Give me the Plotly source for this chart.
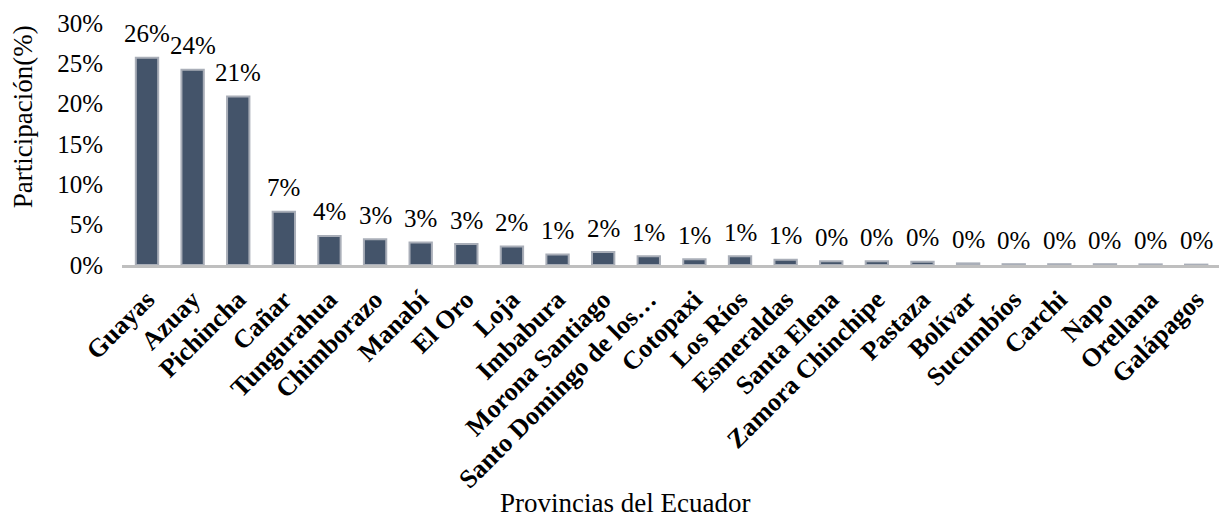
import plotly.graph_objects as go

provincias = ["Guayas", "Azuay", "Pichincha", "Cañar", "Tungurahua", "Chimborazo",
              "Manabí", "El Oro", "Loja", "Imbabura", "Morona Santiago",
              "Santo Domingo de los…", "Cotopaxi", "Los Ríos", "Esmeraldas",
              "Santa Elena", "Zamora Chinchipe", "Pastaza", "Bolívar", "Sucumbíos",
              "Carchi", "Napo", "Orellana", "Galápagos"]
participacion = [0.257, 0.242, 0.209, 0.066, 0.036, 0.032, 0.028, 0.026, 0.023,
                 0.013, 0.016, 0.011, 0.007, 0.011, 0.0066, 0.0045, 0.0045, 0.004,
                 0.002, 0.001, 0.001, 0.001, 0.0008, 0.0005]
y_ticks = [0, 0.05, 0.10, 0.15, 0.20, 0.25, 0.30]

FONT = "Liberation Serif, Times New Roman, serif"

fig = go.Figure()
fig.add_trace(go.Bar(
    x=provincias, y=participacion,
    marker=dict(color="#44546A", line=dict(color="#A9AEB8", width=2)),
    hoverinfo="x+y",
))

for p, v in zip(provincias, participacion):
    fig.add_annotation(x=p, y=v, xref="x", yref="y", text=f"{round(v*100):.0f}%",
                       showarrow=False, yanchor="middle", yshift=24,
                       font=dict(family=FONT, size=25, color="#000000"))

fig.add_annotation(xref="paper", yref="paper", x=-0.090, y=0.612,
                   text="Participación(%)", showarrow=False, textangle=-90,
                   font=dict(family=FONT, size=27, color="#000000"),
                   xanchor="center", yanchor="middle")
fig.add_annotation(xref="paper", yref="paper", x=0.4585, y=-0.985,
                   text="Provincias del Ecuador", showarrow=False,
                   font=dict(family=FONT, size=27, color="#000000"),
                   xanchor="center", yanchor="middle")

fig.update_layout(
    width=1224, height=518,
    margin=dict(l=122, r=5, t=23, b=253),
    paper_bgcolor="white", plot_bgcolor="white",
    bargap=0.51, showlegend=False,
    font=dict(family=FONT, color="#000000"),
)
fig.update_xaxes(
    tickangle=-45, showgrid=False, showline=True, linecolor="#BFBFBF", linewidth=3,
    ticks="", ticklabelstandoff=6,
    tickfont=dict(family=FONT, size=26, color="#000000", weight="bold"),
    automargin=False,
)
fig.update_yaxes(
    range=[0, 0.30], tickvals=y_ticks, tickformat=".0%", showgrid=False,
    showline=False, zeroline=False, ticks="", ticklabelstandoff=18,
    tickfont=dict(family=FONT, size=25, color="#000000"), automargin=False,
)

fig.write_html("out.html")
